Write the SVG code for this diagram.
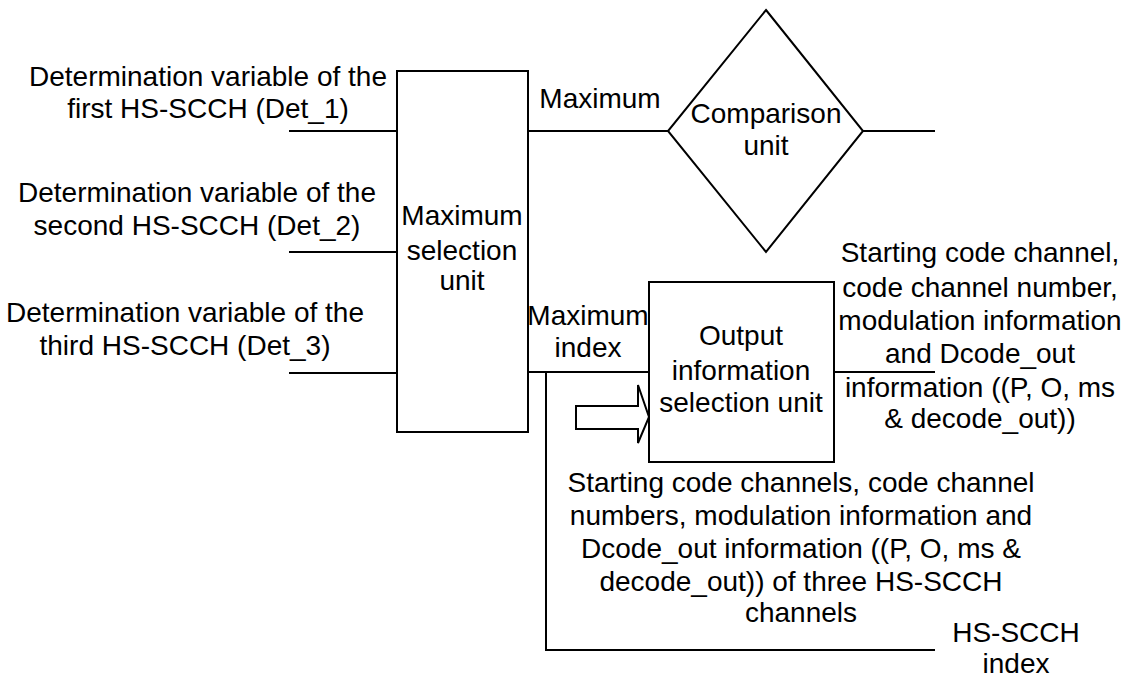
<svg xmlns="http://www.w3.org/2000/svg" width="1127" height="677" viewBox="0 0 1127 677">
<style>
.t{font-family:"Liberation Sans",Arial,sans-serif;font-size:28px;fill:#000;text-anchor:middle}
.s{fill:none;stroke:#000;stroke-width:2}
.b{fill:#fff;stroke:#000;stroke-width:2}
</style>
<rect width="1127" height="677" fill="#fff"/>
<g id="connectors">
<line class="s" x1="289" y1="131" x2="397" y2="131"/>
<line class="s" x1="289" y1="252" x2="397" y2="252"/>
<line class="s" x1="289" y1="373" x2="397" y2="373"/>
<line class="s" x1="528" y1="131" x2="668" y2="131"/>
<line class="s" x1="863" y1="131" x2="935" y2="131"/>
<line class="s" x1="528" y1="372" x2="649" y2="372"/>
<polyline class="s" points="546,372 546,650 935,650"/>
<line class="s" x1="834" y1="372" x2="935" y2="372"/>
<polygon class="b" points="576,406 638,406 638,385 649,417 638,443 638,429 576,429"/>
</g>
<g id="labels">
<text class="t" x="208" y="86">Determination variable of the</text>
<text class="t" x="208" y="118">first HS-SCCH (Det_1)</text>
<text class="t" x="197" y="202">Determination variable of the</text>
<text class="t" x="197" y="235">second HS-SCCH (Det_2)</text>
<text class="t" x="185" y="322">Determination variable of the</text>
<text class="t" x="185" y="355">third HS-SCCH (Det_3)</text>
<text class="t" x="600" y="108">Maximum</text>
<text class="t" x="588" y="325">Maximum</text>
<text class="t" x="588" y="357">index</text>
<text class="t" x="980" y="262">Starting code channel,</text>
<text class="t" x="980" y="297">code channel number,</text>
<text class="t" x="980" y="330">modulation information</text>
<text class="t" x="980" y="363">and Dcode_out</text>
<text class="t" x="980" y="397">information ((P, O, ms</text>
<text class="t" x="980" y="428">&amp; decode_out))</text>
<text class="t" x="801" y="492">Starting code channels, code channel</text>
<text class="t" x="801" y="525">numbers, modulation information and</text>
<text class="t" x="801" y="558">Dcode_out information ((P, O, ms &amp;</text>
<text class="t" x="801" y="591">decode_out)) of three HS-SCCH</text>
<text class="t" x="801" y="622">channels</text>
<text class="t" x="1016" y="642">HS-SCCH</text>
<text class="t" x="1016" y="673">index</text>
</g>
<g id="max-selection">
<rect class="b" x="397" y="71" width="131" height="361"/>
<text class="t" x="462" y="225">Maximum</text>
<text class="t" x="462" y="260">selection</text>
<text class="t" x="462" y="290">unit</text>
</g>
<g id="comparison">
<polygon class="b" points="766,10 863,131 766,252 668,131"/>
<text class="t" x="766" y="123">Comparison</text>
<text class="t" x="766" y="155">unit</text>
</g>
<g id="output-selection">
<rect class="b" x="649" y="282" width="185" height="180"/>
<text class="t" x="741" y="345">Output</text>
<text class="t" x="741" y="380">information</text>
<text class="t" x="741" y="412">selection unit</text>
</g>
</svg>
